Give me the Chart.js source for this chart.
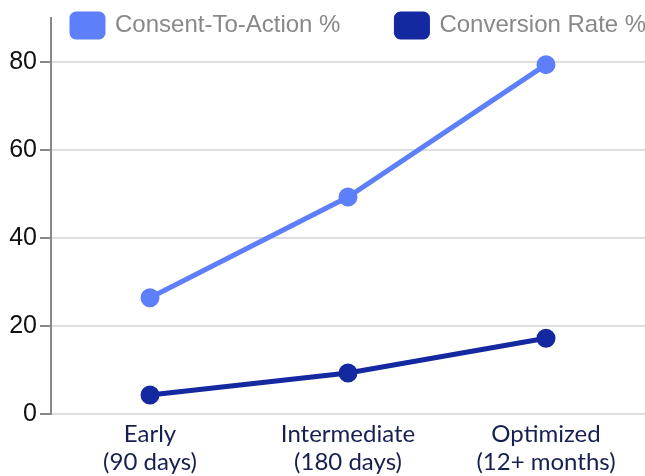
<!DOCTYPE html>
<html>
<head>
<meta charset="utf-8">
<script src="https://cdn.jsdelivr.net/npm/chart.js@4"></script>
<style>
  html, body { margin: 0; padding: 0; background: #fff; }
  #wrap { width: 645px; height: 476px; }
</style>
</head>
<body>
<div id="wrap"><canvas id="stageChart" width="645" height="476"></canvas></div>
<script>
// datos del gráfico
const stages = [['Early', '(90 days)'], ['Intermediate', '(180 days)'], ['Optimized', '(12+ months)']];
const consentToAction = [26.4, 49.3, 79.4];
const conversionRate = [4.3, 9.3, 17.2];
const yTicks = [0, 20, 40, 60, 80];

const sansFont = '"Liberation Sans", Arial, sans-serif';

// leyenda superpuesta al área del gráfico (no ocupa alto)
const overlayLegend = {
    id: 'overlayLegend',
    beforeLayout(chart) {
        const lg = chart.legend;
        if (lg && !lg._overlay) {
            const fit = lg.fit;
            lg.fit = function () { fit.call(this); this.height = 0; };
            lg._overlay = true;
        }
    },
    beforeDraw(chart) {
        const lg = chart.legend;
        lg.top = 13.5 - 56;
        lg.left = 72 - 56;
        lg.right = chart.width + 300;
        lg.bottom = 60;
    }
};

const ctx = document.getElementById('stageChart').getContext('2d');

new Chart(ctx, {
    type: 'line',
    data: {
        labels: stages,
        datasets: [{
            label: 'Consent-To-Action %',
            data: consentToAction,
            borderColor: '#5e7ffa',
            backgroundColor: '#5e7ffa',
            borderWidth: 5,
            pointRadius: 7,
            pointHoverRadius: 7
        }, {
            label: 'Conversion Rate %',
            data: conversionRate,
            borderColor: '#1428a0',
            backgroundColor: '#1428a0',
            borderWidth: 5,
            pointRadius: 7,
            pointHoverRadius: 7
        }]
    },
    plugins: [overlayLegend],
    options: {
        responsive: false,
        animation: false,
        layout: { autoPadding: false, padding: { top: 12, right: 0, bottom: -6, left: 0 } },
        plugins: {
            tooltip: { enabled: false },
            legend: {
                position: 'top',
                align: 'start',
                labels: {
                    boxWidth: 31,
                    boxHeight: 23,
                    useBorderRadius: true,
                    borderRadius: 4,
                    padding: 56,
                    color: '#888',
                    font: { family: sansFont, size: 24 }
                }
            }
        },
        scales: {
            x: {
                offset: true,
                grid: { display: false, drawTicks: false, tickLength: 0 },
                border: { display: false },
                ticks: {
                    color: '#16204f',
                    font: { family: 'Lato', size: 24, lineHeight: 1.1667 },
                    padding: 6
                }
            },
            y: {
                min: 0,
                max: 90,
                afterBuildTicks: (scale) => {
                    scale.ticks = yTicks.map(v => ({ value: v }));
                },
                afterFit: (scale) => { scale.width = 51; },
                grid: {
                    color: '#dedede',
                    lineWidth: 2,
                    tickLength: 11,
                    tickColor: '#888'
                },
                border: { color: '#888', width: 2 },
                ticks: {
                    color: '#111',
                    font: { family: sansFont, size: 25 },
                    padding: 3
                }
            }
        }
    }
});
</script>
</body>
</html>
